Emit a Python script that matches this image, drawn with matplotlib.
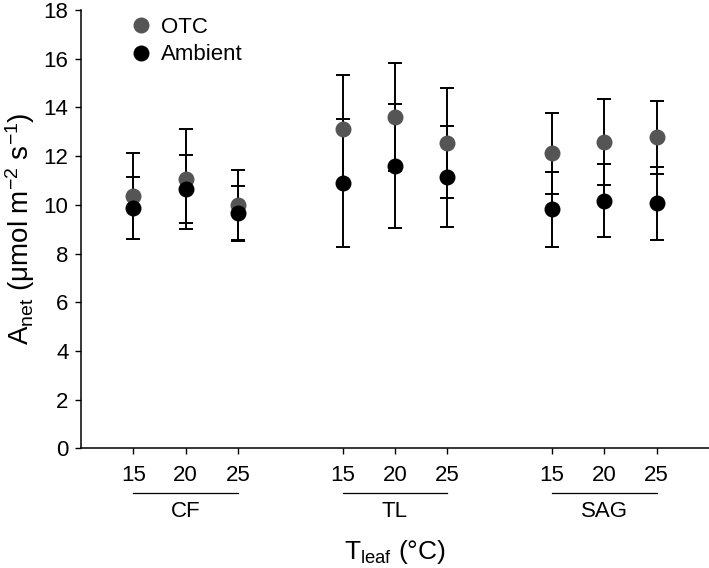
import numpy as np
import matplotlib
matplotlib.use("Agg")
import matplotlib.pyplot as plt
import matplotlib.transforms as mtransforms

plt.rcParams['font.family'] = ['Liberation Sans', 'DejaVu Sans']
plt.rcParams['mathtext.default'] = 'regular'

# data
groups = ['CF', 'TL', 'SAG']
temps = ['15', '20', '25']

otc_mean = [10.36, 11.06, 9.99, 13.10, 13.59, 12.55, 12.11, 12.58, 12.77]
otc_err = [1.77, 2.04, 1.45, 2.24, 2.22, 2.26, 1.67, 1.77, 1.51]
amb_mean = [9.87, 10.65, 9.65, 10.91, 11.59, 11.15, 9.82, 10.17, 10.06]
amb_err = [1.26, 1.40, 1.13, 2.63, 2.54, 2.08, 1.54, 1.49, 1.50]

# x positions: three temps per group, one empty slot between groups
xpos = []
for g in range(len(groups)):
    for t in range(len(temps)):
        xpos.append(1 + 4 * g + t)
xpos = np.array(xpos)

fig = plt.figure(figsize=(7.09, 5.68), dpi=100)
ax = fig.add_axes([0.1142, 0.2107, 0.8858, 0.7717])

otc_col = '#555555'
ebkw = dict(fmt='none', ecolor='black', elinewidth=1.4, capsize=5, capthick=1.4, zorder=2)
ax.errorbar(xpos, otc_mean, yerr=otc_err, **ebkw)
ax.errorbar(xpos, amb_mean, yerr=amb_err, **ebkw)
ax.plot(xpos, otc_mean, 'o', color=otc_col, markersize=11.5, markeredgewidth=0, label='OTC', zorder=3)
ax.plot(xpos, amb_mean, 'o', color='black', markersize=11.5, markeredgewidth=0, label='Ambient', zorder=4)

ax.set_xlim(0, 12)
ax.set_ylim(0, 18)
ax.set_yticks(np.arange(0, 19, 2))
ax.set_xticks(xpos)
ax.set_xticklabels(temps * len(groups))
ax.tick_params(direction='out', length=4, width=1, labelsize=16, pad=5)
ax.tick_params(axis='x', pad=8)
ax.spines['top'].set_visible(False)
ax.spines['right'].set_visible(False)
for s in ['left', 'bottom']:
    ax.spines[s].set_linewidth(1.1)

# group lines and names under the temperature labels
trans = mtransforms.blended_transform_factory(ax.transData, ax.transAxes)
for g, name in enumerate(groups):
    x0 = xpos[3 * g]
    x1 = xpos[3 * g + 2]
    ax.plot([x0, x1], [-0.102, -0.102], color='black', lw=0.9, transform=trans, clip_on=False)
    ax.text((x0 + x1) / 2, -0.143, name, transform=trans, ha='center', va='center', fontsize=16)

ax.set_ylabel('A$_{net}$ ($\\mu$mol m$^{-2}$ s$^{-1}$)', fontsize=20)
ax.yaxis.set_label_coords(-0.07, 0.5)
ax.set_xlabel('T$_{leaf}$ ($\\degree$C)', fontsize=19)
ax.xaxis.set_label_coords(0.5, -0.205)

ax.legend(loc='upper left', bbox_to_anchor=(0.062, 1.009), frameon=False, fontsize=16,
          handlelength=0.9, handletextpad=0.45, labelspacing=0.28, borderpad=0, markerscale=1.0)

fig.savefig('out.png', dpi=100)
